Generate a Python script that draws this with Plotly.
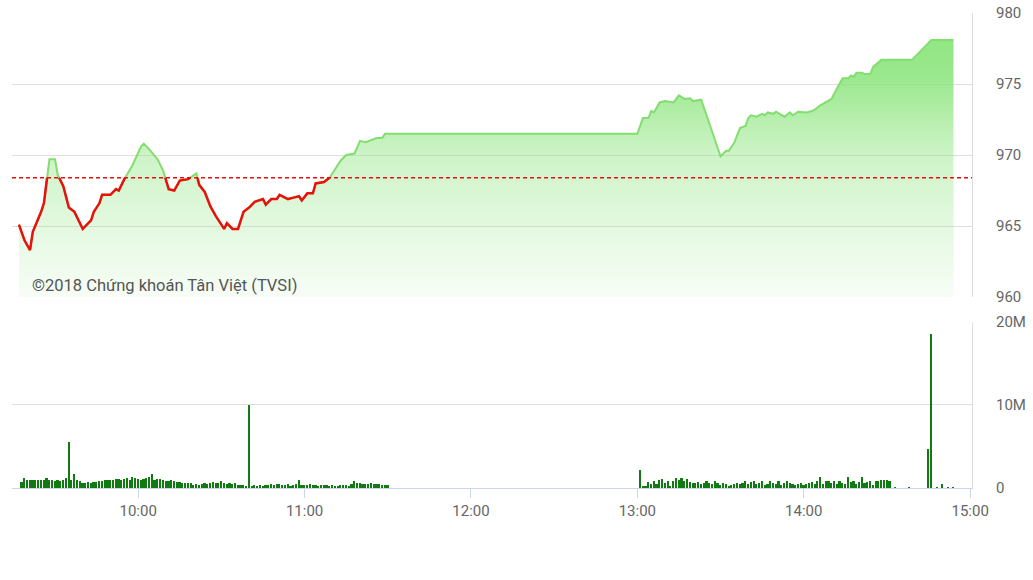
import pandas as pd
import plotly.graph_objects as go

DAY = "2018-01-01 "

# ---- price (VN-Index intraday) ----
price_times = [
    "09:17", "09:19", "09:21", "09:22", "09:25", "09:26", "09:28", "09:30", "09:31", "09:33",
    "09:35", "09:37", "09:40", "09:43", "09:44", "09:46", "09:47", "09:50", "09:52", "09:53",
    "09:55", "09:58", "10:01", "10:02", "10:04", "10:07", "10:09", "10:11", "10:13", "10:14",
    "10:15", "10:18", "10:21", "10:22", "10:24", "10:26", "10:28", "10:31", "10:32", "10:34",
    "10:36", "10:38", "10:40", "10:42", "10:45", "10:46", "10:48", "10:50", "10:51", "10:54",
    "10:56", "10:58", "10:59", "11:01", "11:03", "11:04", "11:07", "11:09", "11:10", "11:13",
    "11:15", "11:18", "11:20", "11:22", "11:26", "11:28", "11:29", "11:30",
    "13:00", "13:02", "13:04", "13:05", "13:06", "13:08", "13:10", "13:13", "13:15", "13:17",
    "13:19", "13:20", "13:23", "13:26", "13:30", "13:32", "13:33", "13:35", "13:37", "13:39",
    "13:40", "13:41", "13:43", "13:45", "13:46", "13:47", "13:49", "13:50", "13:53", "13:55",
    "13:56", "13:58", "14:01", "14:03", "14:04", "14:06", "14:10", "14:12", "14:14", "14:16",
    "14:17", "14:18", "14:19", "14:21", "14:22", "14:24", "14:25", "14:28", "14:30", "14:39",
    "14:46", "14:54",
]
price_values = [
    965.1, 964.0, 963.3, 964.6, 966.0, 966.6, 969.7, 969.7, 968.6, 967.8,
    966.3, 966.0, 964.8, 965.4, 966.0, 966.6, 967.2, 967.2, 967.6, 967.5,
    968.3, 969.3, 970.6, 970.8, 970.4, 969.7, 968.9, 967.6, 967.5, 967.9,
    968.2, 968.3, 968.7, 967.9, 967.4, 966.4, 965.7, 964.8, 965.2, 964.8,
    964.8, 966.0, 966.3, 966.7, 966.9, 966.5, 966.9, 966.9, 967.2, 966.9,
    967.0, 967.1, 966.8, 967.3, 967.3, 968.0, 968.1, 968.4, 968.7, 969.6,
    970.0, 970.1, 971.0, 970.9, 971.2, 971.2, 971.5, 971.5,
    971.5, 972.6, 972.6, 973.1, 973.0, 973.7, 973.8, 973.7, 974.2, 973.95,
    974.0, 973.8, 973.9, 972.2, 969.9, 970.3, 970.3, 970.9, 971.9, 972.05,
    972.6, 972.8, 972.7, 972.9, 972.8, 973.0, 972.9, 973.05, 972.7, 973.0,
    972.8, 973.05, 973.0, 973.1, 973.2, 973.5, 973.95, 974.7, 975.4, 975.4,
    975.6, 975.5, 975.8, 975.8, 975.7, 975.7, 976.2, 976.7, 976.7, 976.7,
    978.1, 978.1,
]
reference_value = 968.4

# ---- volume (millions of shares per minute) ----
morning_start = "09:18"
morning_volume = [
    0.68, 1.2, 1.0, 0.92, 0.92, 0.92, 1.0, 0.92, 1.0, 1.2,
    1.0, 0.92, 0.8, 1.0, 0.8, 0.92, 1.2, 5.6, 1.0, 1.73,
    0.92, 0.8, 0.6, 0.6, 0.68, 0.6, 0.68, 0.68, 0.8, 0.8,
    1.0, 1.0, 1.0, 1.0, 1.08, 1.08, 1.0, 1.08, 1.2, 0.92,
    1.33, 1.2, 1.08, 1.0, 1.08, 1.2, 1.33, 1.73, 1.0, 1.08,
    1.08, 1.0, 0.8, 0.8, 0.92, 0.8, 0.68, 0.68, 0.6, 0.6,
    0.6, 0.6,
    0.4, 0.52, 0.4, 0.52, 0.6, 0.52, 0.6, 0.68, 0.6, 0.6,
    0.8, 0.6, 0.52, 0.6, 0.52, 0.6, 0.4, 0.4, 0.4, 0.28,
    10.0,
    0.28, 0.4, 0.28, 0.4, 0.28, 0.4, 0.4, 0.52, 0.4, 0.52,
    0.52, 0.4, 0.4, 0.52, 0.28, 0.4, 0.52, 1.0, 0.4, 0.4,
    0.4, 0.52, 0.4, 0.4, 0.28, 0.4, 0.4, 0.4, 0.28, 0.4,
    0.28, 0.28, 0.4, 0.4, 0.4, 0.28, 0.52, 0.8, 0.6, 0.6,
    0.52, 0.52, 0.52, 0.6, 0.52, 0.52, 0.52, 0.4, 0.4, 0.4,
]
afternoon_start = "13:01"
afternoon_volume = [
    2.2, 0.2, 0.3, 0.7, 0.5, 0.9, 0.5, 1.0, 1.1, 0.6,
    0.9, 0.3, 0.9, 1.2, 1.0, 1.2, 0.9, 1.1, 0.7, 0.6,
    0.6, 0.7, 0.5, 0.6, 0.8, 0.6, 0.5, 0.8, 0.6, 0.4,
    0.6, 0.5, 0.3, 0.4, 0.5, 0.6, 0.5, 0.6, 0.8, 0.5,
    0.7, 0.9, 0.5, 0.6, 0.8, 0.4, 0.5, 0.9, 0.6, 0.5,
    0.8, 0.4, 0.6, 0.9, 0.6, 0.5, 0.4, 0.5, 0.6, 0.4,
    0.5, 0.6, 0.7, 0.5, 0.8, 1.3, 0.5, 0.9, 0.8, 0.6,
    0.9, 0.5, 0.8, 0.6, 0.5, 1.3, 0.7, 0.8, 0.5, 0.7,
    1.3, 0.6, 0.7, 0.8, 0.4, 0.9, 0.8, 1.0, 1.0, 1.0,
    0.9,
]
late_times = ["14:33", "14:38", "14:45", "14:46", "14:48", "14:50", "14:52", "14:54"]
late_volume = [0.05, 0.08, 4.7, 18.6, 0.1, 0.45, 0.1, 0.1]

x_ticks = ["10:00", "11:00", "12:00", "13:00", "14:00", "15:00"]
price_ticks = [960, 965, 970, 975, 980]
volume_ticks = [0, 10, 20]
volume_tick_text = ["0", "10M", "20M"]
watermark = "©2018 Chứng khoán Tân Việt (TVSI)"

# ---- build ----
t = pd.to_datetime([DAY + s for s in price_times])
v = price_values

red_x, red_y = [], []
for i in range(len(v)):
    if i > 0 and (v[i - 1] - reference_value) * (v[i] - reference_value) < 0:
        frac = (reference_value - v[i - 1]) / (v[i] - v[i - 1])
        tc = t[i - 1] + (t[i] - t[i - 1]) * frac
        red_x.append(tc)
        red_y.append(reference_value)
        if v[i] > reference_value:
            red_x.append(None)
            red_y.append(None)
    if v[i] <= reference_value:
        red_x.append(t[i])
        red_y.append(v[i])

vol_x = list(pd.date_range(DAY + morning_start, periods=len(morning_volume), freq="min")) + \
        list(pd.date_range(DAY + afternoon_start, periods=len(afternoon_volume), freq="min")) + \
        list(pd.to_datetime([DAY + s for s in late_times]))
vol_y = [x * 1e6 for x in morning_volume + afternoon_volume + late_volume]

G = "140,229,125"
fig = go.Figure()
fig.add_trace(go.Scatter(
    x=t, y=v, mode="lines", fill="tozeroy",
    line=dict(color="#84dd70", width=2),
    fillgradient=dict(type="vertical", start=960, stop=978.1,
                      colorscale=[[0, f"rgba({G},0.07)"], [0.276, f"rgba({G},0.24)"],
                                  [0.552, f"rgba({G},0.43)"], [0.7, f"rgba({G},0.64)"],
                                  [0.85, f"rgba({G},0.87)"], [1, f"rgba({G},0.95)"]]),
    xaxis="x", yaxis="y", hoverinfo="skip", showlegend=False,
))
fig.add_trace(go.Scatter(
    x=red_x, y=red_y, mode="lines", connectgaps=False,
    line=dict(color="#e8120c", width=2.5),
    xaxis="x", yaxis="y", hoverinfo="skip", showlegend=False,
))
fig.add_trace(go.Bar(
    x=vol_x, y=vol_y, marker=dict(color="#127a12", line=dict(width=0)),
    width=36000, xaxis="x", yaxis="y2", hoverinfo="skip", showlegend=False,
))

fig.add_shape(type="line", xref="x domain", yref="y", x0=0, x1=1,
              y0=reference_value, y1=reference_value,
              line=dict(color="#e3100c", width=1.4, dash="4px,3px"))

fig.add_annotation(text=watermark, xref="paper", yref="paper", x=0.0185, y=0.427,
                   xanchor="left", yanchor="middle", showarrow=False,
                   font=dict(family="Roboto", size=16.5, color="#555555"))

fig.update_layout(
    width=1033, height=580,
    margin=dict(l=12, r=61, t=13, b=92, autoexpand=False),
    paper_bgcolor="white", plot_bgcolor="white",
    font=dict(family="Roboto", color="#666666", size=15),
    hovermode=False, bargap=0,
    xaxis=dict(
        anchor="y2", domain=[0, 1], type="date", automargin=False,
        range=[DAY + "09:14:30", DAY + "15:00:40"],
        tickvals=[DAY + s for s in x_ticks], ticktext=x_ticks,
        ticks="outside", ticklen=9, tickcolor="#ccd6eb", tickwidth=1,
        showline=True, linecolor="#ccd6eb", linewidth=1,
        showgrid=False, zeroline=False,
        tickfont=dict(size=15, color="#666666"),
    ),
    yaxis=dict(
        domain=[0.402, 1], range=[960, 980], side="right", anchor="x", automargin=False,
        tickvals=price_ticks, showgrid=True, gridcolor="#dedede", gridwidth=1,
        showline=True, linecolor="#dedede", linewidth=1,
        ticks="outside", ticklen=20, tickcolor="rgba(0,0,0,0)",
        zeroline=False, tickfont=dict(size=15, color="#666666"),
    ),
    yaxis2=dict(
        domain=[0, 0.3495], range=[0, 20e6], side="right", anchor="x", automargin=False,
        tickvals=[x * 1e6 for x in volume_ticks], ticktext=volume_tick_text,
        showgrid=True, gridcolor="#dedede", gridwidth=1,
        showline=True, linecolor="#dedede", linewidth=1,
        ticks="outside", ticklen=20, tickcolor="rgba(0,0,0,0)",
        zeroline=False, tickfont=dict(size=15, color="#666666"),
    ),
)

fig.write_html("out.html", config={"displayModeBar": False},
               post_script="document.body.style.margin='0';document.body.style.overflow='hidden';")
